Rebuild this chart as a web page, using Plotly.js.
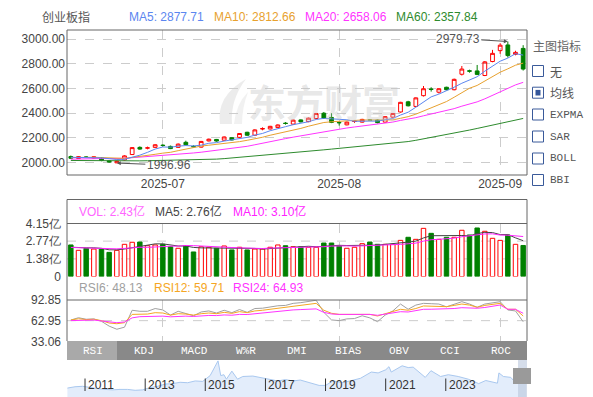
<!DOCTYPE html>
<html><head><meta charset="utf-8">
<script src="https://cdn.plot.ly/plotly-3.0.1.min.js"></script>
<style>html,body{margin:0;padding:0;background:#fff;}#chart{width:593px;height:397px;}</style>
</head><body><div id="chart"></div>
<script>
// ---------- data ----------
const dates = ['2025-06-13','2025-06-16','2025-06-17','2025-06-18','2025-06-19','2025-06-20','2025-06-23','2025-06-24','2025-06-25','2025-06-26','2025-06-27','2025-06-30',
'2025-07-01','2025-07-02','2025-07-03','2025-07-04','2025-07-07','2025-07-08','2025-07-09','2025-07-10','2025-07-11','2025-07-14','2025-07-15','2025-07-16','2025-07-17','2025-07-18','2025-07-21','2025-07-22','2025-07-23','2025-07-24','2025-07-25','2025-07-28','2025-07-29','2025-07-30','2025-07-31',
'2025-08-01','2025-08-04','2025-08-05','2025-08-06','2025-08-07','2025-08-08','2025-08-11','2025-08-12','2025-08-13','2025-08-14','2025-08-15','2025-08-18','2025-08-19','2025-08-20','2025-08-21','2025-08-22','2025-08-25','2025-08-26','2025-08-27','2025-08-28','2025-08-29',
'2025-09-01','2025-09-02','2025-09-03','2025-09-04'];
const open  = [2050,2034,2046,2038,2040,2016,1999,2022,2066,2124,2118,2124,2142,2132,2124,2165,2132,2126,2176,2188,2182,2202,2205,2246,2222,2272,2273,2284,2320,2312,2346,2332,2357,2400,2366,2326,2306,2333,2328,2346,2345,2328,2368,2410,2492,2455,2542,2596,2570,2610,2590,2715,2743,2742,2705,2818,2906,2952,2876,2924];
const close = [2036,2049,2044,2047,2018,2006,2012,2055,2122,2110,2120,2145,2139,2114,2150,2145,2129,2172,2190,2175,2208,2184,2236,2222,2265,2276,2294,2305,2317,2344,2330,2360,2398,2360,2326,2323,2328,2336,2350,2344,2324,2372,2398,2488,2460,2524,2598,2592,2598,2590,2674,2757,2740,2714,2815,2884,2950,2866,2892,2757];
const high  = [2058,2053,2052,2050,2045,2020,2016,2060,2126,2132,2130,2150,2148,2138,2156,2178,2140,2176,2195,2192,2212,2206,2240,2250,2270,2286,2298,2310,2328,2348,2350,2365,2402,2410,2400,2334,2333,2345,2355,2352,2350,2376,2402,2492,2500,2528,2620,2610,2602,2614,2680,2782,2752,2790,2822,2912,2966,2979.73,2905,2950];
const low   = [2030,2030,2038,2033,2012,2001,1996.96,2018,2062,2105,2108,2120,2130,2110,2120,2140,2120,2122,2172,2170,2178,2180,2200,2218,2218,2262,2268,2280,2308,2308,2326,2328,2352,2355,2320,2300,2302,2322,2324,2336,2318,2324,2360,2405,2455,2450,2535,2575,2560,2585,2585,2705,2728,2708,2700,2812,2880,2850,2868,2745];
const priorCloses = [2000,2010,2018,2025,2016,2004,2012,2022,2028,2020,2032,2036,2040,2046,2038,2050,2048,2044,2040];
const ma60 = [2018,2017,2016,2015,2014,2013,2013,2013,2014,2015,2016,2017,2018,2019,2020,2021,2022,2024,2026,2029,2033,2038,2043,2048,2053,2058,2063,2068,2074,2080,2086,2092,2098,2104,2110,2116,2121,2126,2131,2136,2141,2147,2154,2162,2171,2181,2192,2204,2216,2228,2240,2252,2264,2277,2290,2303,2316,2329,2343,2357.84];
const volume = [2.47,2.05,2.21,2.15,2.15,1.89,2.05,2.52,2.68,2.70,2.41,2.47,2.52,2.33,2.21,2.41,1.92,2.33,2.29,2.21,2.39,2.08,2.29,2.08,2.15,2.15,2.29,2.47,2.41,2.33,2.33,2.29,2.29,2.62,2.62,2.39,2.21,2.29,2.57,2.70,2.52,2.52,2.52,2.83,3.07,2.91,3.77,3.38,2.91,3.07,3.07,3.62,3.25,3.80,3.54,2.99,2.83,3.25,2.52,2.43];
const priorVolumes = [2.3,2.2,2.4,2.1,2.25,2.3,2.2,2.15,2.35];
const rsi6  = [63.9,67.2,65,65.5,62,55,50.5,53.5,78,76.5,76.5,80.5,78.5,71,76.5,73.5,70,75.5,77,74,78,74.5,79,75,80.5,81,83,84.5,85,88,89,91,92.5,75,64,63,65.5,66,70,67,61.5,71,77,87,79.5,85.5,88,87.5,87,83,87,90.4,87,82.3,87,89,90.4,78.4,77,61.4];
const rsi12 = [63.9,65.7,64.5,65,63,59.5,58.5,60,72,72,72.5,74.5,74,71,73,72.5,71,73,74,73,75,73.5,76,74.5,77,78,79.5,81,82,84,85,87,88,78,73.6,72,72,72,73,72,69.7,73,76,79.4,78,80.5,84.2,84,84,83.2,85,87,85.5,82.3,85,86.5,88,79.4,79.4,69.7];
const rsi24 = [63,63.5,63.5,63.8,62.5,61,60,61,67,68.7,68.8,69.5,69.5,68.5,69.5,69.5,69,70,70.5,70.3,71.2,70.8,72,71.8,73,74,75,76,77,78.5,79,79.5,80,75,72.6,72,72,72,72.5,72,70.7,72.5,74,75.9,75.5,77,79.4,79.5,79.7,79.5,80.5,81.7,81.3,80.9,82,84,85.6,79.4,79.4,73.6];
const navDates = ['2010-06-01','2010-09-01','2010-12-01','2011-03-01','2011-06-01','2011-09-01','2011-12-01','2012-03-01','2012-06-01','2012-09-01','2012-12-01','2013-03-01','2013-06-01','2013-09-01','2013-12-01','2014-03-01','2014-06-01','2014-09-01','2014-12-01','2015-03-01','2015-05-01','2015-06-05','2015-07-08','2015-08-15','2015-09-15','2015-11-20','2016-01-28','2016-04-01','2016-08-01','2016-12-01','2017-03-01','2017-06-01','2017-09-01','2017-12-01','2018-03-01','2018-06-01','2018-10-15','2019-01-01','2019-04-01','2019-08-01','2019-12-01','2020-03-01','2020-07-10','2020-10-01','2021-01-01','2021-02-10','2021-03-10','2021-07-20','2021-10-01','2021-12-01','2022-04-27','2022-07-05','2022-10-30','2023-02-01','2023-06-01','2023-10-01','2024-02-05','2024-05-01','2024-09-20','2024-10-08','2024-12-01','2025-03-01','2025-04-08','2025-06-15','2025-09-04'];
const navValues = [1000,1150,1200,1050,950,850,800,850,850,750,800,1050,1200,1450,1500,1650,1600,1800,1750,2400,3500,4050,2400,2500,2000,2900,2000,2300,2350,2150,2000,1800,1950,1800,1900,1650,1300,1300,1800,1600,1850,2100,2800,2700,3050,3400,2800,3500,3300,3350,2200,2950,2300,2500,2300,2000,1500,1850,1550,2700,2300,2200,1800,2050,2760];
const monthTicks = ['2025-07-01','2025-08-01','2025-09-01'];
const monthLabels = ['2025-07','2025-08','2025-09'];
const priceTicks = [2000,2200,2400,2600,2800,3000];
const volTicks = [0,1.38,2.77,4.15];
const volTickText = ['0','1.38亿','2.77亿','4.15亿'];
const rsiTicks = [33.06,62.95,92.85];
const yearTicks = ['2011-01-01','2013-01-01','2015-01-01','2017-01-01','2019-01-01','2021-01-01','2023-01-01'];
const yearLabels = ['2011','2013','2015','2017','2019','2021','2023'];
const tabLabels = ['RSI','KDJ','MACD','W%R','DMI','BIAS','OBV','CCI','ROC'];
const menuItems = ['无','均线','EXPMA','SAR','BOLL','BBI'];
const titleItems = [['创业板指','#555555'],['MA5: 2877.71','#5b86f0'],['MA10: 2812.66','#e8a12e'],['MA20: 2658.06','#ff33ff'],['MA60: 2357.84','#2e8b2e']];
const volLegend = [['VOL: 2.43亿','#ff66ff'],['MA5: 2.76亿','#444444'],['MA10: 3.10亿','#ff22ff']];
const rsiLegend = [['RSI6: 48.13','#a0a0a0'],['RSI12: 59.71','#f5a623'],['RSI24: 64.93','#ff33ff']];

// ---------- helpers ----------
const W = 593, H = 397;
const X = p => p / W;
const Y = p => 1 - p / H;
function movAvg(series, prior, n) {
  const all = prior.concat(series);
  return series.map((_, i) => {
    const end = prior.length + i, start = Math.max(0, end - n + 1);
    let s = 0; for (let k = start; k <= end; k++) s += all[k];
    return s / (end - start + 1);
  });
}
const RED = '#ff0000', GREEN = '#008000';
const up = close.map((c, i) => c >= open[i]);
const xd = [X(67), X(527)];

const traces = [
  {type:'scatter',mode:'lines',x:dates,y:ma60,line:{color:'#2e8b2e',width:1},xaxis:'x',yaxis:'y'},
  {type:'scatter',mode:'lines',x:dates,y:movAvg(close,priorCloses,20),line:{color:'#ff33ff',width:1},xaxis:'x',yaxis:'y'},
  {type:'scatter',mode:'lines',x:dates,y:movAvg(close,priorCloses,10),line:{color:'#e8a12e',width:1},xaxis:'x',yaxis:'y'},
  {type:'scatter',mode:'lines',x:dates,y:movAvg(close,priorCloses,5),line:{color:'#5b86f0',width:1},xaxis:'x',yaxis:'y'},
  {type:'candlestick',x:dates,open:open,high:high,low:low,close:close,xaxis:'x',yaxis:'y',
   increasing:{line:{color:RED,width:1},fillcolor:'rgba(255,255,255,0)'},
   decreasing:{line:{color:GREEN,width:1},fillcolor:GREEN},whiskerwidth:0},
  {type:'bar',x:dates,y:volume,xaxis:'x2',yaxis:'y2',
   marker:{color:up.map(u=>u?'#ffffff':GREEN),line:{color:up.map(u=>u?RED:GREEN),width:1}}},
  {type:'scatter',mode:'lines',x:dates,y:movAvg(volume,priorVolumes,5),line:{color:'#444444',width:1},xaxis:'x2',yaxis:'y2'},
  {type:'scatter',mode:'lines',x:dates,y:movAvg(volume,priorVolumes,10),line:{color:'#ff22ff',width:1},xaxis:'x2',yaxis:'y2'},
  {type:'scatter',mode:'lines',x:dates,y:rsi6,line:{color:'#a0a0a0',width:1},xaxis:'x3',yaxis:'y3'},
  {type:'scatter',mode:'lines',x:dates,y:rsi12,line:{color:'#f5a623',width:1},xaxis:'x3',yaxis:'y3'},
  {type:'scatter',mode:'lines',x:dates,y:rsi24,line:{color:'#ff33ff',width:1},xaxis:'x3',yaxis:'y3'},
  {type:'scatter',mode:'lines',x:navDates,y:navValues,fill:'tozeroy',fillcolor:'#e3edfb',line:{color:'#a9c8ef',width:1},xaxis:'x4',yaxis:'y4'}
];

const catAxis = (anchor, labels) => ({
  domain: xd, anchor: anchor, type:'category', range:[-0.5, dates.length-0.5],
  tickvals: monthTicks, ticktext: monthLabels, showticklabels: labels,
  showgrid:true, gridcolor:'#cccccc', griddash:'dash', gridwidth:1,
  showline:false, zeroline:false, ticks:'', fixedrange:true,
  tickfont:{size:12,color:'#444'}, rangeslider:{visible:false}
});

const annotations = [];
const shapes = [];
const txt = (t, xp, yp, color, extra) => annotations.push(Object.assign({
  text:t, xref:'paper', yref:'paper', x:X(xp), y:Y(yp), xanchor:'left', yanchor:'middle',
  showarrow:false, font:{size:12,color:color,family:'Liberation Sans, Noto Sans CJK SC, sans-serif'}
}, extra||{}));

// title row
[40,127,212,303,394].forEach((xp,i)=>txt(titleItems[i][0], xp, 17, titleItems[i][1]));
// volume legend, rsi legend
[77,153,231].forEach((xp,i)=>txt(volLegend[i][0], xp, 212, volLegend[i][1]));
[77,152,231].forEach((xp,i)=>txt(rsiLegend[i][0], xp, 288, rsiLegend[i][1]));
// max / min markers
annotations.push({text:'2979.73', xref:'x', yref:'y', x:dates[high.indexOf(Math.max(...high))], y:Math.max(...high),
  ax:-50, ay:-3, axref:'pixel', ayref:'pixel', showarrow:true, arrowhead:2, arrowsize:0.8, arrowwidth:1, arrowcolor:'#555',
  font:{size:12,color:'#555',family:'Liberation Sans'}});
annotations.push({text:'1996.96', xref:'x', yref:'y', x:dates[low.indexOf(Math.min(...low))], y:Math.min(...low),
  ax:52, ay:2, axref:'pixel', ayref:'pixel', showarrow:true, arrowhead:2, arrowsize:0.8, arrowwidth:1, arrowcolor:'#555',
  font:{size:12,color:'#555',family:'Liberation Sans'}});
// watermark (logo blade + text)
const P = (x,y)=>X(x).toFixed(4)+','+Y(y).toFixed(4);
shapes.push({type:'path',xref:'paper',yref:'paper',layer:'below',line:{width:0},fillcolor:'rgba(200,200,200,0.35)',
  path:'M'+P(220,124)+' Q'+P(216,96)+' '+P(246,79)+' Q'+P(230,100)+' '+P(232,124)+' Z'});
shapes.push({type:'path',xref:'paper',yref:'paper',layer:'below',line:{width:0},fillcolor:'rgba(200,200,200,0.25)',
  path:'M'+P(234,124)+' Q'+P(236,104)+' '+P(248,92)+' Q'+P(242,108)+' '+P(242,124)+' Z'});
txt('东方财富', 324, 101, 'rgba(190,190,190,0.4)', {xanchor:'center', font:{size:38,color:'rgba(195,195,195,0.4)',family:'Noto Sans CJK SC',weight:'bold'}});
// right panel
txt('主图指标', 531, 46, '#666', {font:{size:12,color:'#666',family:'Noto Sans CJK SC'}});
const menuY = [71, 92.7, 114.5, 136.5, 158.5, 180];
menuItems.forEach((m,i)=>{
  const cjk = /[\u4e00-\u9fff]/.test(m);
  txt(m, 548, menuY[i], '#555', {font:{size:cjk?12:11,color:'#555',family:cjk?'Noto Sans CJK SC':'Liberation Mono'}});
  shapes.push({type:'rect',xref:'paper',yref:'paper',x0:X(532.5),x1:X(543.5),y0:Y(menuY[i]+5.5),y1:Y(menuY[i]-5.5),line:{color:'#3a5a9a',width:1},fillcolor:'#ffffff'});
  if (i===1) shapes.push({type:'rect',xref:'paper',yref:'paper',x0:X(535.5),x1:X(540.5),y0:Y(menuY[i]+2.8),y1:Y(menuY[i]-2.8),line:{width:0},fillcolor:'#34569a'});
});
// borders
const L = (x0,y0,x1,y1)=>shapes.push({type:'line',xref:'paper',yref:'paper',x0:X(x0),y0:Y(y0),x1:X(x1),y1:Y(y1),line:{color:'#666',width:1},layer:'above'});
shapes.push({type:'rect',xref:'paper',yref:'paper',x0:X(67),x1:X(527),y0:Y(175),y1:Y(30),line:{color:'#666',width:1},layer:'above'});
L(67,199.5,527,199.5); L(67,223.5,527,223.5); L(67,300,527,300);
L(67,199.5,67,341); L(527,199.5,527,341);
// dashed grids in volume / rsi
[1.38,2.77].forEach(v=>shapes.push({type:'line',xref:'paper',yref:'y2',x0:xd[0],x1:xd[1],y0:v,y1:v,line:{color:'#cccccc',width:1,dash:'dash'},layer:'below'}));
shapes.push({type:'line',xref:'paper',yref:'y3',x0:xd[0],x1:xd[1],y0:62.95,y1:62.95,line:{color:'#cccccc',width:1,dash:'dash'},layer:'below'});
// tab bar
shapes.push({type:'rect',xref:'paper',yref:'paper',x0:X(67),x1:X(527),y0:Y(360),y1:Y(341),line:{width:0},fillcolor:'#898989',layer:'above'});
shapes.push({type:'rect',xref:'paper',yref:'paper',x0:X(67),x1:X(117),y0:Y(360),y1:Y(341),line:{width:0},fillcolor:'#a9a9a9',layer:'above'});
const tabW = 460/tabLabels.length;
tabLabels.forEach((t,i)=>txt(t, 67+tabW*(i+0.5), 350.5, '#fff', {xanchor:'center', font:{size:11,color:'#ffffff',family:'Liberation Mono'}}));
// navigator ticks / labels
yearTicks.forEach((d,i)=>{
  shapes.push({type:'line',xref:'x4',yref:'paper',x0:d,x1:d,y0:Y(391),y1:Y(378.5),line:{color:'#333',width:1},layer:'above'});
  annotations.push({text:yearLabels[i],xref:'x4',yref:'paper',x:d,y:Y(385),xanchor:'left',yanchor:'middle',xshift:1,showarrow:false,font:{size:12,color:'#333',family:'Liberation Sans'}});
});
shapes.push({type:'rect',xref:'paper',yref:'paper',x0:X(518),x1:X(527),y0:Y(397),y1:Y(360),line:{width:0},fillcolor:'rgba(185,198,220,0.6)',layer:'above'});
shapes.push({type:'rect',xref:'paper',yref:'paper',x0:X(513),x1:X(531),y0:Y(384),y1:Y(368),line:{width:0},fillcolor:'#9a9a9a',layer:'above'});

const layout = {
  width:W, height:H, margin:{l:0,r:0,t:0,b:0}, showlegend:false,
  paper_bgcolor:'#fff', plot_bgcolor:'#fff', font:{family:'Liberation Sans, Arial, sans-serif',size:12,color:'#444'},
  bargap:0.42,
  xaxis: catAxis('y', true),
  xaxis2: catAxis('y2', false),
  xaxis3: catAxis('y3', false),
  xaxis4: {domain:xd, anchor:'y4', type:'date', range:['2010-05-27','2025-09-14'], showticklabels:false, showgrid:false, zeroline:false, showline:false, ticks:'', fixedrange:true},
  yaxis: {domain:[Y(175),Y(30)], anchor:'x', range:[1900.6,3072.8], tickvals:priceTicks, tickformat:'.2f',
          showgrid:true, gridcolor:'#cccccc', griddash:'dash', zeroline:false, showline:false, ticks:'', ticklabelstandoff:1, tickfont:{size:12,color:'#444'}, fixedrange:true},
  yaxis2: {domain:[Y(276.5),Y(223.5)], anchor:'x2', range:[0,4.15], tickvals:volTicks, ticktext:volTickText,
           showgrid:false, zeroline:false, showline:false, ticks:'', ticklabelstandoff:5, tickfont:{size:12,color:'#444'}, fixedrange:true},
  yaxis3: {domain:[Y(341.3),Y(300)], anchor:'x3', range:[33.06,92.85], tickvals:rsiTicks, ticktext:rsiTicks.map(v=>v.toFixed(2)),
           showgrid:false, zeroline:false, showline:false, ticks:'', ticklabelstandoff:5, tickfont:{size:12,color:'#444'}, fixedrange:true},
  yaxis4: {domain:[0,Y(360)], anchor:'x4', range:[0,4150], showticklabels:false, showgrid:false, zeroline:false, showline:false, fixedrange:true},
  annotations: annotations, shapes: shapes
};
Plotly.newPlot('chart', traces, layout, {displayModeBar:false, staticPlot:true});
</script></body></html>
